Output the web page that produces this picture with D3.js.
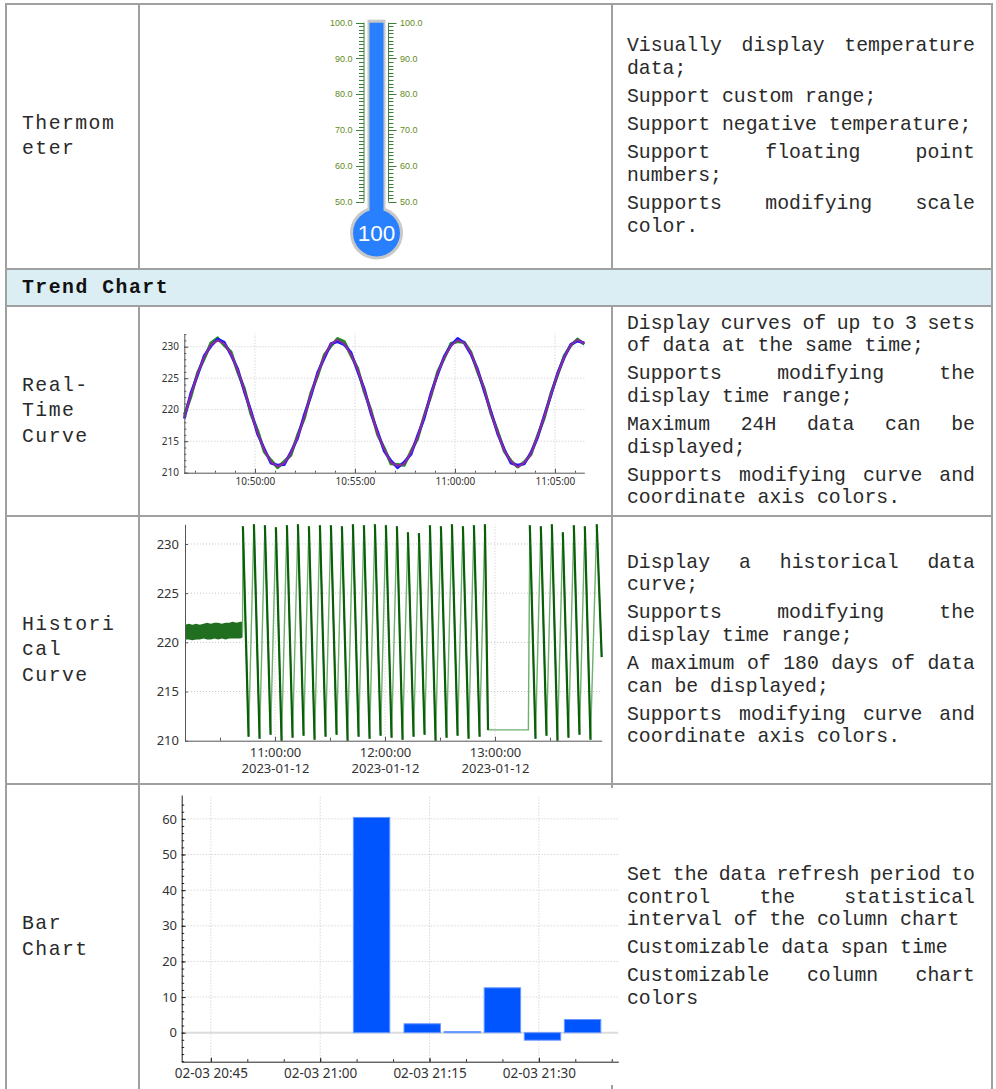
<!DOCTYPE html>
<html><head><meta charset="utf-8">
<script src="https://cdn.jsdelivr.net/npm/d3@7"></script>
<style>html,body{margin:0;padding:0;background:#fff;}svg{display:block;}</style>
</head><body>
<svg id="c" width="996" height="1089"></svg>
<script>
// ---------------- DATA ----------------
const rowLabels = [["Thermom","eter"],["Real-","Time","Curve"],["Histori","cal","Curve"],["Bar","Chart"]];
const sectionTitle = "Trend Chart";
const rowDescs = [
  [["Visually display temperature","data;"],["Support custom range;"],["Support negative temperature;"],["Support floating point","numbers;"],["Supports modifying scale","color."]],
  [["Display curves of up to 3 sets","of data at the same time;"],["Supports modifying the","display time range;"],["Maximum 24H data can be","displayed;"],["Supports modifying curve and","coordinate axis colors."]],
  [["Display a historical data","curve;"],["Supports modifying the","display time range;"],["A maximum of 180 days of data","can be displayed;"],["Supports modifying curve and","coordinate axis colors."]],
  [["Set the data refresh period to","control the statistical","interval of the column chart"],["Customizable data span time"],["Customizable column chart","colors"]]
];

// Thermometer
const thermoRange = [50, 100];
const thermoValue = 100;
const thermoMajor = [50, 60, 70, 80, 90, 100];

// Real-time curve (3 series, one sample every 20 s)
const rtDate = "2023-01-12";
const rtDomain = ["10:46:28", "11:06:28"];
const rtStart = "10:46:28";
const rtStepSec = 20;
const rtYTicks = [210, 215, 220, 225, 230];
const rtGreen = [219.2,222.1,225.9,228.1,230.6,231.4,230.2,229.2,226.0,223.4,219.3,216.7,213.3,212.0,210.8,211.8,212.8,216.0,
218.6,222.7,225.4,228.7,230.1,231.3,230.8,228.6,226.6,222.8,219.9,216.0,213.9,211.4,211.3,211.2,213.4,215.4,
219.1,222.2,226.0,228.2,230.5,230.8,230.7,229.1,226.0,223.3,219.4,216.6,213.4,211.9,210.9,211.7,212.9,215.9,
218.7,222.6,225.5,228.6,230.2,231.2,230.4];
const rtBlue = [218.6,222.7,225.5,228.6,230.1,231.2,230.7,228.7,226.5,222.9,219.8,216.1,213.8,211.5,211.2,211.3,213.3,215.5,
219.2,222.2,225.9,228.2,230.5,230.8,230.3,229.1,226.1,223.3,219.4,216.5,213.4,211.9,210.8,211.7,212.9,215.9,
218.7,222.6,225.6,228.5,230.2,231.3,230.6,228.8,226.4,222.9,219.7,216.2,213.7,211.5,211.2,211.4,213.2,215.6,
219.1,222.3,225.8,228.3,230.4,230.9,230.6];
const rtPurple = [218.9,222.4,225.7,228.4,230.3,231.0,230.5,228.9,226.3,223.1,219.6,216.3,213.6,211.7,211.0,211.5,213.1,215.7,
218.8,222.5,225.6,228.5,230.4,231.1,230.4,228.8,226.4,223.0,219.7,216.2,213.7,211.6,211.1,211.4,213.2,215.6,
219.0,222.3,225.8,228.3,230.2,231.0,230.6,229.0,226.2,223.2,219.5,216.4,213.5,211.8,210.9,211.6,213.0,215.8,
218.9,222.4,225.7,228.4,230.3,231.1,230.5];

// Historical curve
const hDate = "2023-01-12";
const hDomain = ["10:10:55", "13:58:12"];
const hYTicks = [210, 215, 220, 225, 230];
const hBandTimes = ["10:10:55","10:13:00","10:15:00","10:17:00","10:19:00","10:21:00","10:23:00","10:25:00","10:27:00","10:29:00","10:31:00","10:33:00","10:35:00","10:37:00","10:39:00","10:41:00","10:42:18"];
const hBandLow  = [220.3,220.3,220.2,220.3,220.3,220.4,220.3,220.3,220.4,220.3,220.4,220.3,220.4,220.4,220.4,220.4,220.5];
const hBandHigh = [221.8,221.9,221.8,221.9,221.8,221.9,222.0,221.9,222.0,222.0,221.9,222.0,222.0,222.1,222.0,222.1,222.1];
const hTimes = ["10:42:18","10:42:30","10:45:36","10:48:30","10:51:36","10:54:30","10:57:36","11:00:30","11:03:36","11:06:30","11:09:36",
"11:12:30","11:15:36","11:18:30","11:21:36","11:24:30","11:27:36","11:30:30","11:33:36","11:36:30","11:39:36","11:42:30","11:45:36",
"11:48:30","11:51:36","11:54:30","11:57:36","12:00:30","12:03:36","12:06:30","12:09:36","12:12:30","12:15:36","12:18:30","12:21:36",
"12:24:30","12:27:36","12:30:30","12:33:36","12:36:30","12:39:36","12:42:30","12:45:36","12:48:30","12:51:36","12:54:30","12:56:12",
"13:18:12","13:19:00","13:22:06","13:25:00","13:28:06","13:31:00","13:34:06","13:37:00","13:40:06","13:43:00","13:46:06","13:49:00",
"13:52:06","13:55:30","13:58:12"];
const hValues = [221.0,231.8,210.4,232.0,210.2,231.9,210.6,231.7,210.0,231.9,210.3,
232.0,210.5,231.8,210.1,231.9,210.4,231.9,210.6,231.8,210.0,232.0,210.4,
231.9,210.2,232.0,210.5,231.9,210.3,231.8,210.1,231.2,210.4,231.1,210.6,
231.9,210.0,231.8,210.3,232.0,210.5,231.8,210.2,231.9,210.4,232.0,211.1,
211.1,231.9,210.2,231.8,210.5,232.0,210.0,231.2,210.3,231.9,210.6,231.8,
210.1,232.0,218.5];

// Bar chart
const barDate = "2023-02-03";
const barDomain = ["20:41:00", "21:40:54"];
const barTimes = ["21:07:03","21:14:00","21:19:30","21:25:00","21:30:30","21:36:00"];
const barValues = [60.4, 2.5, 0.3, 12.6, -2.1, 3.7];
const barWidthMin = 5;
const barYTicks = [0, 10, 20, 30, 40, 50, 60];
const barYDomain = [-8.14, 66.7];

// ---------------- LAYOUT ----------------
const svg = d3.select("#c");
const FONT_MONO = "'Courier New',Courier,'Nimbus Mono PS','Nimbus Mono L',FreeMono,'Liberation Mono','DejaVu Sans Mono',monospace";
const FONT_UI = "'Noto Sans','Open Sans',sans-serif";
const X0 = 6, X1 = 139, X2 = 612, X3 = 992;
const rowY = [4, 269, 306, 516, 784, 1090];
const BORDER = "#a0a0a0";
const T = (d, s) => d3.timeParse("%Y-%m-%d %H:%M:%S")(d + " " + s);

// header background
svg.append("rect").attr("x", X0).attr("y", rowY[1]).attr("width", X3 - X0).attr("height", rowY[2] - rowY[1]).attr("fill", "#daeef3");

// borders
const bl = svg.append("g").attr("stroke", BORDER).attr("stroke-width", 2);
rowY.forEach(y => bl.append("line").attr("x1", X0 - 1).attr("x2", X3 + 1).attr("y1", y).attr("y2", y));
[X0, X3].forEach(x => bl.append("line").attr("x1", x).attr("x2", x).attr("y1", rowY[0]).attr("y2", rowY[5]));
[[0,1],[2,3],[3,4],[4,5]].forEach(([a,b]) => {
  [X1, X2].forEach(x => bl.append("line").attr("x1", x).attr("x2", x).attr("y1", rowY[a]).attr("y2", rowY[b]));
});

// text
const FS = 19.8, CW = FS * 0.6, LH = 22.7, PG = 5.3;
const descX = 627, descW = 348;
const bodyRows = [[0,1],[2,3],[3,4],[4,5]];
const tg = svg.append("g").attr("font-family", FONT_MONO).attr("font-size", FS).attr("fill", "#2a2a2a");

bodyRows.forEach(([a,b], ri) => {
  const cy = (rowY[a] + rowY[b]) / 2;
  const lab = rowLabels[ri];
  const LLH = 25.5;
  lab.forEach((s, i) => {
    tg.append("text").attr("x", 22).attr("y", cy - (lab.length - 1) * LLH / 2 + i * LLH)
      .attr("dominant-baseline", "central").attr("letter-spacing", 1.45).text(s);
  });
  const paras = rowDescs[ri];
  const nLines = d3.sum(paras, p => p.length);
  const total = nLines * LH + (paras.length - 1) * PG;
  let y = cy - total / 2 + LH / 2;
  paras.forEach(p => {
    p.forEach((line, li) => {
      const justify = li < p.length - 1;
      if (!justify) {
        tg.append("text").attr("x", descX).attr("y", y).attr("dominant-baseline", "central").text(line);
      } else {
        const words = line.split(" ");
        const wsum = d3.sum(words, w => w.length) * CW;
        const gap = (descW - wsum) / (words.length - 1);
        let cx = descX;
        words.forEach(w => {
          tg.append("text").attr("x", cx).attr("y", y).attr("dominant-baseline", "central").text(w);
          cx += w.length * CW + gap;
        });
      }
      y += LH;
    });
    y += PG;
  });
});
svg.append("text").attr("x", 22).attr("y", (rowY[1] + rowY[2]) / 2).attr("dominant-baseline", "central")
  .attr("font-family", FONT_MONO).attr("font-size", FS).attr("font-weight", "bold").attr("letter-spacing", 1.5)
  .attr("fill", "#111").text(sectionTitle);

// ---------------- THERMOMETER ----------------
(function(){
  const g = svg.append("g");
  const tY = d3.scaleLinear().domain(thermoRange).range([201.7, 22.7]);
  const cx = 376.5, bulbY = 233;
  const minor = d3.ticks(thermoRange[0], thermoRange[1], thermoRange[1] - thermoRange[0]);
  const tickC = "#3b7f3b", labC = "#5f8a22";
  const lx = 364, rx = 388.5;
  g.append("line").attr("x1", lx).attr("x2", lx).attr("y1", tY(thermoRange[0])).attr("y2", tY(thermoRange[1])).attr("stroke", tickC);
  g.append("line").attr("x1", rx).attr("x2", rx).attr("y1", tY(thermoRange[0])).attr("y2", tY(thermoRange[1])).attr("stroke", tickC);
  minor.forEach(v => {
    const len = thermoMajor.includes(v) ? 8 : 5;
    const yy = Math.round(tY(v)) + 0.5;
    g.append("line").attr("x1", lx - len).attr("x2", lx).attr("y1", yy).attr("y2", yy).attr("stroke", tickC).attr("stroke-width", 1);
    g.append("line").attr("x1", rx).attr("x2", rx + len).attr("y1", yy).attr("y2", yy).attr("stroke", tickC).attr("stroke-width", 1);
  });
  const fmt = d3.format(".1f");
  thermoMajor.forEach(v => {
    g.append("text").attr("x", lx - 11.5).attr("y", tY(v)).attr("text-anchor", "end").attr("dominant-baseline", "central")
      .attr("font-family", "'Liberation Sans',Arial,sans-serif").attr("font-size", 9).attr("fill", labC).text(fmt(v));
    g.append("text").attr("x", rx + 11.5).attr("y", tY(v)).attr("dominant-baseline", "central")
      .attr("font-family", "'Liberation Sans',Arial,sans-serif").attr("font-size", 9).attr("fill", labC).text(fmt(v));
  });
  g.append("rect").attr("x", cx - 9).attr("y", tY(thermoRange[1]) - 3).attr("width", 18).attr("height", bulbY - tY(thermoRange[1]) + 3).attr("fill", "#c8c8c8");
  g.append("circle").attr("cx", cx).attr("cy", bulbY).attr("r", 26.5).attr("fill", "#c8c8c8");
  const top = tY(Math.min(thermoValue, thermoRange[1]));
  g.append("rect").attr("x", cx - 7).attr("y", top).attr("width", 14).attr("height", bulbY - top).attr("fill", "#2880ff");
  g.append("circle").attr("cx", cx).attr("cy", bulbY).attr("r", 23.5).attr("fill", "#2880ff");
  g.append("text").attr("x", cx).attr("y", bulbY).attr("text-anchor", "middle").attr("dominant-baseline", "central")
    .attr("font-family", "'Liberation Sans',Arial,sans-serif").attr("font-size", 22.5).attr("fill", "#fff").text(thermoValue);
})();

// ---------------- AXIS HELPERS ----------------
function styleAxis(sel, color, fs) {
  sel.attr("font-family", FONT_UI).attr("font-size", fs);
  sel.select(".domain").attr("stroke", color);
  sel.selectAll(".tick line").attr("stroke", color);
  sel.selectAll(".tick text").attr("fill", "#333");
}
function minorAxis(g, axis, transform, color) {
  const s = g.append("g").attr("transform", transform).call(axis);
  s.select(".domain").remove();
  s.selectAll(".tick line").attr("stroke", color);
  s.selectAll("text").remove();
}
function gridLines(g, xs, ys, x, y) {
  const gg = g.append("g").attr("stroke", "#c8c8c8").attr("stroke-dasharray", "1,2").attr("stroke-width", 1);
  xs.forEach(v => gg.append("line").attr("x1", x(v)).attr("x2", x(v)).attr("y1", y.range()[0]).attr("y2", y.range()[1]));
  ys.forEach(v => gg.append("line").attr("x1", x.range()[0]).attr("x2", x.range()[1]).attr("y1", y(v)).attr("y2", y(v)));
}

// ---------------- REAL-TIME CURVE ----------------
(function(){
  const g = svg.append("g");
  const x = d3.scaleTime().domain(rtDomain.map(s => T(rtDate, s))).range([184.3, 584.3]);
  const y = d3.scaleLinear().domain([210, 232]).range([472.7, 334.1]);
  const xt = x.ticks(d3.timeMinute.every(5));
  gridLines(g, xt, rtYTicks.filter(v => v > 210), x, y);
  const t0 = T(rtDate, rtStart);
  const times = rtGreen.map((_, i) => d3.timeSecond.offset(t0, i * rtStepSec));
  const line = d3.line().x((d, i) => x(times[i])).y(d => y(d));
  const series = [[rtGreen, "#1f8f1f", 3.0], [rtBlue, "#1a1aff", 2.8], [rtPurple, "#8e2a9e", 2.0]];
  series.forEach(([vals, col, w]) => {
    g.append("path").attr("d", line(vals)).attr("fill", "none").attr("stroke", col).attr("stroke-width", w).attr("stroke-linejoin", "round");
  });
  const ax = "#555";
  minorAxis(g, d3.axisBottom(x).ticks(d3.timeMinute.every(1)).tickSize(-2).tickFormat(""), `translate(0,${y.range()[0]})`, ax);
  minorAxis(g, d3.axisLeft(y).tickValues(d3.range(210, 232.01, 1)).tickSize(-2).tickFormat(""), `translate(${x.range()[0]},0)`, ax);
  g.append("g").attr("transform", `translate(0,${y.range()[0]})`)
    .call(d3.axisBottom(x).ticks(d3.timeMinute.every(5)).tickFormat(d3.timeFormat("%H:%M:%S")).tickSize(-4).tickSizeOuter(0).tickPadding(5.5))
    .call(s => styleAxis(s, ax, 10));
  g.append("g").attr("transform", `translate(${x.range()[0]},0)`)
    .call(d3.axisLeft(y).tickValues(rtYTicks).tickSize(-4).tickSizeOuter(0).tickPadding(5.3))
    .call(s => styleAxis(s, ax, 10));
})();

// ---------------- HISTORICAL CURVE ----------------
(function(){
  const g = svg.append("g");
  const x = d3.scaleTime().domain(hDomain.map(s => T(hDate, s))).range([185, 601.7]);
  const y = d3.scaleLinear().domain([210, 232]).range([740.7, 524.3]);
  const xt = x.ticks(d3.timeHour.every(1));
  gridLines(g, xt, hYTicks.filter(v => v > 210), x, y);
  const band = hBandTimes.map((t, i) => ({t: T(hDate, t), lo: hBandLow[i], hi: hBandHigh[i]}));
  g.append("path").attr("d", d3.area().x(d => x(d.t)).y0(d => y(d.lo)).y1(d => y(d.hi))(band)).attr("fill", "#206e20");
  const pts = hTimes.map((t, i) => ({t: T(hDate, t), v: hValues[i]}));
  const line = d3.line().x(d => x(d.t)).y(d => y(d.v));
  g.append("path").attr("d", line(pts)).attr("fill", "none").attr("stroke", "#6fb06f").attr("stroke-width", 1.4);
  for (let i = 0; i < pts.length - 1; i++) {
    if (pts[i + 1].v < pts[i].v - 0.5) {
      g.append("path").attr("d", line([pts[i], pts[i + 1]])).attr("fill", "none").attr("stroke", "#0a5e0a").attr("stroke-width", 2.2);
    }
  }
  const ax = "#555";
  minorAxis(g, d3.axisBottom(x).ticks(d3.timeMinute.every(30)).tickSize(-3).tickFormat(""), `translate(0,${y.range()[0]})`, ax);
  const xa = g.append("g").attr("transform", `translate(0,${y.range()[0]})`)
    .call(d3.axisBottom(x).ticks(d3.timeHour.every(1)).tickFormat(d3.timeFormat("%H:%M:%S")).tickSize(-4).tickSizeOuter(0).tickPadding(7))
    .call(s => styleAxis(s, ax, 13));
  const fd = d3.timeFormat("%Y-%m-%d");
  xa.selectAll(".tick text").each(function(d){
    const t = d3.select(this); const s1 = t.text(); t.text("");
    t.append("tspan").attr("x", 0).text(s1);
    t.append("tspan").attr("x", 0).attr("dy", 16).text(fd(d));
  });
  g.append("g").attr("transform", `translate(${x.range()[0]},0)`)
    .call(d3.axisLeft(y).tickValues(hYTicks).tickSize(-3).tickSizeOuter(0).tickPadding(6))
    .call(s => styleAxis(s, ax, 13));
})();

// ---------------- BAR CHART ----------------
(function(){
  const g = svg.append("g");
  g.append("rect").attr("x", 141).attr("y", 788).attr("width", 480).attr("height", 297).attr("fill", "#fff");
  const x = d3.scaleTime().domain(barDomain.map(s => T(barDate, s))).range([181.7, 618.3]);
  const y = d3.scaleLinear().domain(barYDomain).range([1061.7, 795]);
  const xt = x.ticks(d3.timeMinute.every(15));
  gridLines(g, xt, barYTicks.filter(v => v !== 0), x, y);
  g.append("line").attr("x1", x.range()[0]).attr("x2", x.range()[1]).attr("y1", y(0)).attr("y2", y(0)).attr("stroke", "#dcdcdc").attr("stroke-width", 2);
  barTimes.forEach((s, i) => {
    const t = T(barDate, s);
    const xa = x(d3.timeSecond.offset(t, -barWidthMin * 30)), xb = x(d3.timeSecond.offset(t, barWidthMin * 30));
    const v = barValues[i];
    g.append("rect").attr("x", xa).attr("width", xb - xa)
      .attr("y", y(Math.max(v, 0))).attr("height", Math.abs(y(v) - y(0)))
      .attr("fill", "#0055ff").attr("stroke", "#6a98ff").attr("stroke-width", 1);
  });
  const ax = "#222";
  minorAxis(g, d3.axisBottom(x).ticks(d3.timeMinute.every(5)).tickSize(-2.5).tickFormat(""), `translate(0,${y.range()[0]})`, ax);
  minorAxis(g, d3.axisLeft(y).tickValues(d3.range(-8, 66, 2)).tickSize(-2.5).tickFormat(""), `translate(${x.range()[0]},0)`, ax);
  g.append("g").attr("transform", `translate(0,${y.range()[0]})`)
    .call(d3.axisBottom(x).ticks(d3.timeMinute.every(15)).tickFormat(d3.timeFormat("%m-%d %H:%M")).tickSize(-4).tickSizeOuter(0).tickPadding(7))
    .call(s => styleAxis(s, ax, 13.5));
  g.append("g").attr("transform", `translate(${x.range()[0]},0)`)
    .call(d3.axisLeft(y).tickValues(barYTicks).tickSize(-4).tickSizeOuter(0).tickPadding(4.7))
    .call(s => styleAxis(s, ax, 13));
})();
</script>
</body></html>
